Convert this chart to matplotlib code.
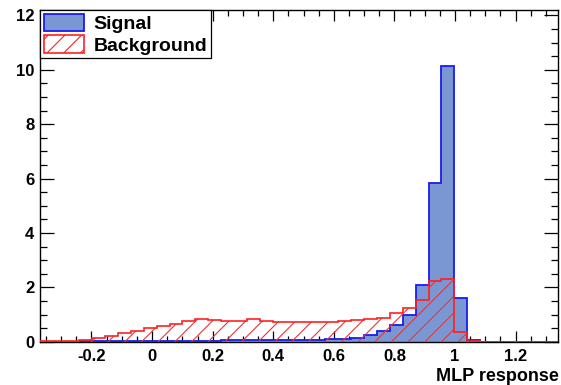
import numpy as np
import matplotlib
matplotlib.use("Agg")
import matplotlib.pyplot as plt
from matplotlib.ticker import MultipleLocator, FuncFormatter
from matplotlib.patches import Patch

# histogram binning of the MLP response
xmin, xmax, nbins = -0.37, 1.34, 40

# normalised signal and background, one value per bin
signal = [0.0, 0.0, 0.0, 0.01, 0.01, 0.01, 0.02, 0.02, 0.03, 0.03,
          0.04, 0.04, 0.04, 0.04, 0.05, 0.05, 0.05, 0.05, 0.05, 0.06,
          0.06, 0.07, 0.09, 0.11, 0.15, 0.26, 0.40, 0.63, 1.00, 2.10,
          5.85, 10.15, 1.60, 0.08, 0.0, 0.0, 0.0, 0.0, 0.0, 0.0]
background = [0.03, 0.03, 0.04, 0.06, 0.12, 0.21, 0.31, 0.40, 0.49, 0.58,
              0.65, 0.76, 0.82, 0.80, 0.75, 0.77, 0.82, 0.77, 0.74, 0.72,
              0.72, 0.73, 0.74, 0.76, 0.78, 0.82, 0.88, 1.05, 1.23, 1.55,
              2.22, 2.30, 0.36, 0.02, 0.0, 0.0, 0.0, 0.0, 0.0, 0.0]

plt.rcParams['font.family'] = ['Liberation Sans', 'DejaVu Sans']
plt.rcParams['font.weight'] = 'bold'
plt.rcParams['axes.unicode_minus'] = False
plt.rcParams['hatch.linewidth'] = 0.8

edges = np.linspace(xmin, xmax, nbins + 1)

fig = plt.figure(figsize=(5.61, 3.85), dpi=100)
ax = fig.add_axes([0.0713, 0.1125, 0.9234, 0.8615])

ax.stairs(signal, edges, fill=True, color='#7b97d3', zorder=2)
ax.stairs(signal, edges, color='#1a1aee', linewidth=1.3, zorder=3)
ax.stairs(background, edges, fill=True, facecolor='none', edgecolor='#ee3333',
          hatch='//', linewidth=0, zorder=4)
ax.stairs(background, edges, color='#ff2020', linewidth=1.2, zorder=5)

ax.set_xlim(xmin, xmax)
ax.set_ylim(0, 12.2)

ax.xaxis.set_major_locator(MultipleLocator(0.2))
ax.xaxis.set_minor_locator(MultipleLocator(0.05))
ax.yaxis.set_major_locator(MultipleLocator(2))
ax.yaxis.set_minor_locator(MultipleLocator(0.5))
ax.xaxis.set_major_formatter(FuncFormatter(lambda v, p: '%g' % round(v, 2)))
ax.yaxis.set_major_formatter(FuncFormatter(lambda v, p: '%g' % v))

ax.tick_params(which='both', direction='in', top=True, right=True,
               width=0.9, labelsize=12)
ax.tick_params(axis='y', which='major', length=10, pad=4)
ax.tick_params(axis='y', which='minor', length=5)
ax.tick_params(axis='x', which='major', length=8, pad=5)
ax.tick_params(axis='x', which='minor', length=4)
for lbl in ax.get_xticklabels() + ax.get_yticklabels():
    lbl.set_fontweight('bold')
for s in ax.spines.values():
    s.set_linewidth(1.0)

fig.text(0.996, 0.022, 'MLP response', ha='right', va='center',
         fontsize=13, fontweight='bold')

handles = [Patch(facecolor='#7b97d3', edgecolor='#1a1aee', linewidth=1.3),
           Patch(facecolor='white', edgecolor='#ff2020', hatch='//', linewidth=1.2)]
leg = ax.legend(handles, ['Signal', 'Background'], loc='upper left',
                bbox_to_anchor=(0.0, 1.0), borderaxespad=0, frameon=True,
                fancybox=False, edgecolor='black', framealpha=1,
                prop={'size': 14, 'weight': 'bold'}, handlelength=2.05,
                handleheight=1.0, handletextpad=0.5, labelspacing=0.1,
                borderpad=0.2)
leg.get_frame().set_linewidth(0.9)
leg.set_zorder(10)

fig.savefig('out.png', dpi=100)
